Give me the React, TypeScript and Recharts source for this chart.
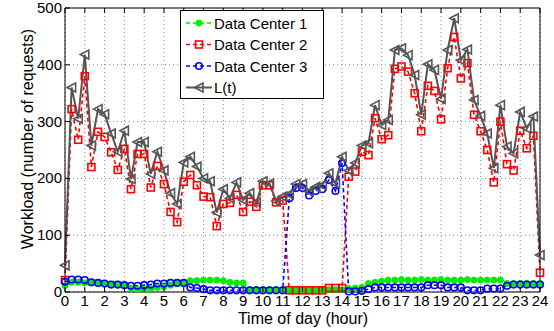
import React from "react";
import {
  LineChart,
  Line,
  XAxis,
  YAxis,
  CartesianGrid,
  Legend,
} from "recharts";

// workload per data center, one value every 20 minutes (0:00 .. 24:00)
const dc1 = [
  11, 17, 17, 16, 17, 17, 15, 13, 12, 11, 7, 5, 5, 6, 8, 9, 12, 15, 15, 20, 20, 21, 21, 21, 20,
  17, 16, 16, 4, 4, 4, 4, 4, 4, 3, 3, 3, 3, 3, 3, 4, 4, 4, 6, 7, 8, 15, 17, 19, 21,
  21, 22, 21, 21, 22, 21, 21, 22, 21, 21, 21, 22, 21, 21, 21, 21, 21, 15, 15, 15, 15, 15, 15,
];
const dc2 = [
  21, 322, 268, 380, 220, 282, 273, 246, 215, 252, 181, 243, 243, 184, 222, 190, 141, 123, 194, 206, 188, 168, 167, 116, 155,
  157, 171, 141, 159, 150, 188, 188, 158, 161, 3, 3, 3, 3, 3, 3, 7, 7, 7, 203, 212, 247, 241, 306, 269, 276,
  393, 397, 388, 350, 283, 363, 354, 304, 394, 449, 376, 403, 312, 283, 250, 193, 300, 225, 214, 284, 253, 275, 34,
];
const dc3 = [
  18, 22, 22, 21, 17, 16, 15, 13, 13, 12, 11, 11, 12, 13, 15, 15, 16, 16, 16, 8, 7, 5, 3, 3, 3,
  3, 3, 3, 3, 3, 3, 3, 3, 3, 165, 183, 183, 170, 178, 181, 197, 178, 227, 1, 1, 2, 5, 8, 8, 8,
  8, 8, 8, 8, 8, 12, 12, 12, 8, 8, 8, 3, 3, 3, 6, 6, 6, 11, 13, 13, 13, 13, 13,
];
const total = [
  47, 360, 305, 418, 258, 322, 313, 279, 247, 284, 199, 264, 264, 208, 247, 214, 174, 155, 228, 238, 221, 200, 195, 140, 181,
  165, 193, 162, 174, 158, 195, 191, 160, 168, 172, 190, 190, 177, 185, 188, 209, 191, 238, 214, 227, 258, 262, 329, 294, 303,
  426, 429, 417, 382, 312, 401, 391, 340, 426, 482, 408, 427, 338, 310, 279, 218, 329, 256, 244, 317, 288, 309, 65,
];

const hourTicks = [0, 1, 2, 3, 4, 5, 6, 7, 8, 9, 10, 11, 12, 13, 14, 15, 16, 17, 18, 19, 20, 21, 22, 23, 24];
const loadTicks = [0, 100, 200, 300, 400, 500];

const data = total.map((v, i) => ({
  t: i / 3,
  dc1: dc1[i],
  dc2: dc2[i],
  dc3: dc3[i],
  total: v,
}));

const FONT = "'Liberation Sans', Arial, Helvetica, sans-serif";
const GREEN = "#00ee00";
const RED = "#ff0000";
const BLUE = "#0000ff";
const GRAY = "#555555";

const GreenDot = (p: any) =>
  p.cx == null ? null : <circle key={p.key} cx={p.cx} cy={p.cy} r={3} fill={GREEN} stroke={GREEN} />;
const RedDot = (p: any) =>
  p.cx == null ? null : (
    <rect key={p.key} x={p.cx - 3.5} y={p.cy - 3.5} width={7} height={7} fill="none" stroke={RED} strokeWidth={1.6} />
  );
const BlueDot = (p: any) =>
  p.cx == null ? null : <circle key={p.key} cx={p.cx} cy={p.cy} r={3.3} fill="none" stroke={BLUE} strokeWidth={1.6} />;
const TriDot = (p: any) =>
  p.cx == null ? null : (
    <polygon
      key={p.key}
      points={`${p.cx - 4.5},${p.cy} ${p.cx + 4},${p.cy - 4.5} ${p.cx + 4},${p.cy + 4.5}`}
      fill="none"
      stroke={GRAY}
      strokeWidth={1.6}
    />
  );

const BottomTick = (p: any) => (
  <g>
    <line x1={p.x} x2={p.x} y1={p.y} y2={p.y - 5} stroke="#000" />
    <text x={p.x} y={p.y + 14} textAnchor="middle" fontSize={15} fontFamily={FONT} fill="#000">
      {p.payload.value}
    </text>
  </g>
);
const TopTick = (p: any) => <line x1={p.x} x2={p.x} y1={p.y} y2={p.y + 5} stroke="#000" />;
const LeftTick = (p: any) => (
  <g>
    <line x1={p.x} x2={p.x + 5} y1={p.y} y2={p.y} stroke="#000" />
    <text x={p.x - 3} y={p.y + 5} textAnchor="end" fontSize={15} fontFamily={FONT} fill="#000">
      {p.payload.value}
    </text>
  </g>
);
const RightTick = (p: any) => <line x1={p.x} x2={p.x - 5} y1={p.y} y2={p.y} stroke="#000" />;

const legendItems = [
  { name: "Data Center 1", color: GREEN, dash: "4 3", Dot: GreenDot },
  { name: "Data Center 2", color: RED, dash: "4 3", Dot: RedDot },
  { name: "Data Center 3", color: BLUE, dash: "4 3", Dot: BlueDot },
  { name: "L(t)", color: GRAY, dash: undefined, Dot: TriDot },
];

const LegendBox = () => (
  <div style={{ width: 144, height: 89, border: "1px solid #000", background: "#fff", boxSizing: "border-box" }}>
    <svg width={142} height={87}>
      {legendItems.map((it, i) => {
        const y = 12 + i * 21.5;
        return (
          <g key={it.name}>
            <line x1={5} x2={31} y1={y} y2={y} stroke={it.color} strokeWidth={it.dash ? 1.6 : 2} strokeDasharray={it.dash} />
            <it.Dot cx={18} cy={y} />
            <text x={33} y={y + 5.5} fontSize={15} fontFamily={FONT} fill="#000">
              {it.name}
            </text>
          </g>
        );
      })}
    </svg>
  </div>
);

export default function App() {
  return (
    <div style={{ position: "absolute", left: 0, top: 0, width: 554, height: 331, background: "#fff" }}>
      <LineChart width={554} height={331} data={data} margin={{ top: 0, right: 0, bottom: 0, left: 0 }}>
        <CartesianGrid stroke="#888" strokeDasharray="1 3" />
        <XAxis
          dataKey="t"
          type="number"
          domain={[0, 24]}
          ticks={hourTicks}
          interval={0}
          height={39}
          tickLine={false}
          tickSize={0}
          tickMargin={0}
          stroke="#000"
          tick={BottomTick}
          label={{
            content: () => (
              <text x={303} y={324} textAnchor="middle" fontSize={16} fontFamily={FONT} fill="#000">
                Time of day (hour)
              </text>
            ),
          }}
        />
        <XAxis
          xAxisId="top"
          orientation="top"
          dataKey="t"
          type="number"
          domain={[0, 24]}
          ticks={hourTicks}
          interval={0}
          height={8}
          tickLine={false}
          tickSize={0}
          tickMargin={0}
          stroke="#000"
          tick={TopTick}
        />
        <YAxis
          type="number"
          domain={[0, 500]}
          ticks={loadTicks}
          interval={0}
          width={65}
          tickLine={false}
          tickSize={0}
          tickMargin={0}
          stroke="#000"
          tick={LeftTick}
          label={{
            content: () => (
              <text
                transform="translate(33,139) rotate(-90)"
                textAnchor="middle"
                fontSize={16}
                fontFamily={FONT}
                fill="#000"
              >
                Workload (number of requests)
              </text>
            ),
          }}
        />
        <YAxis
          yAxisId="right"
          orientation="right"
          type="number"
          domain={[0, 500]}
          ticks={loadTicks}
          interval={0}
          width={14}
          tickLine={false}
          tickSize={0}
          tickMargin={0}
          stroke="#000"
          tick={RightTick}
        />
        <Legend
          layout="vertical"
          align="center"
          verticalAlign="middle"
          content={LegendBox}
          wrapperStyle={{ position: "absolute", left: 180, top: 10, width: 144, height: 89 }}
        />
        <Line
          dataKey="dc1"
          name="Data Center 1"
          type="linear"
          stroke={GREEN}
          strokeWidth={1.6}
          strokeDasharray="4 3"
          dot={GreenDot}
          activeDot={false}
          isAnimationActive={false}
        />
        <Line
          dataKey="dc2"
          name="Data Center 2"
          type="linear"
          stroke={RED}
          strokeWidth={1.6}
          strokeDasharray="4 3"
          dot={RedDot}
          activeDot={false}
          isAnimationActive={false}
        />
        <Line
          dataKey="dc3"
          name="Data Center 3"
          type="linear"
          stroke={BLUE}
          strokeWidth={1.6}
          strokeDasharray="4 3"
          dot={BlueDot}
          activeDot={false}
          isAnimationActive={false}
        />
        <Line
          dataKey="total"
          name="L(t)"
          type="linear"
          stroke={GRAY}
          strokeWidth={2}
          dot={TriDot}
          activeDot={false}
          isAnimationActive={false}
        />
      </LineChart>
    </div>
  );
}
